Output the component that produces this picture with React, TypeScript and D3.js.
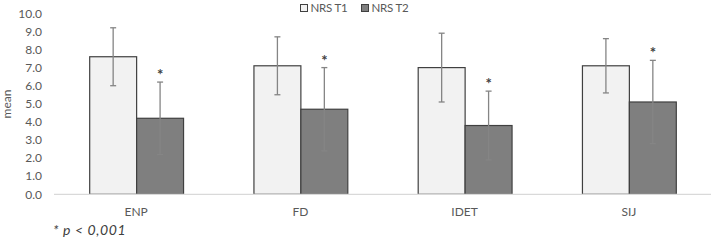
import React from "react";
import * as d3 from "d3";

const categories = ["ENP", "FD", "IDET", "SIJ"];
const seriesNames = ["NRS T1", "NRS T2"];
const t1Mean = [7.6, 7.1, 7.0, 7.1];
const t1Sd = [1.6, 1.6, 1.9, 1.5];
const t2Mean = [4.2, 4.7, 3.8, 5.1];
const t2Sd = [2.0, 2.3, 1.9, 2.3];
const t2Sig = ["*", "*", "*", "*"];
const yTicks = [0, 1, 2, 3, 4, 5, 6, 7, 8, 9, 10];
const footnote = "p < 0,001";

const W = 714;
const H = 240;
const FONT = "Lato, 'Open Sans', sans-serif";
const fills = ["#f2f2f2", "#7f7f7f"];

export default function App() {
  const x = d3.scaleBand<string>().domain(categories).range([54, 711]).padding(0);
  const xi = d3
    .scaleBand<string>()
    .domain(seriesNames)
    .range([0, x.bandwidth()])
    .paddingInner(0)
    .paddingOuter(0.75);
  const y = d3.scaleLinear().domain([0, 10]).range([194.3, 13.3]);
  const fmt = d3.format(".1f");
  const means = [t1Mean, t2Mean];
  const sds = [t1Sd, t2Sd];

  return (
    <svg
      width={W}
      height={H}
      style={{ position: "absolute", left: 0, top: 0, display: "block", background: "#fff" }}
      fontFamily={FONT}
    >
      {/* y tick labels */}
      {yTicks.map((t) => (
        <text
          key={t}
          x={42}
          y={y(t)}
          dy="0.35em"
          textAnchor="end"
          fontSize={12}
          fill="#595959"
        >
          {fmt(t)}
        </text>
      ))}
      <text
        transform={`translate(11,${104}) rotate(-90)`}
        textAnchor="middle"
        fontSize={12}
        fill="#595959"
      >
        mean
      </text>
      {/* bars */}
      {categories.map((c, i) =>
        seriesNames.map((s, k) => {
          const x0 = (x(c) ?? 0) + (xi(s) ?? 0);
          const v = means[k][i];
          return (
            <rect
              key={c + s}
              x={x0 + 0.5}
              y={y(v)}
              width={xi.bandwidth()}
              height={y(0) - y(v)}
              fill={fills[k]}
              stroke="#404040"
              strokeWidth={1.2}
            />
          );
        })
      )}
      {/* axis line */}
      <line x1={54} x2={711} y1={y(0)} y2={y(0)} stroke="#d9d9d9" strokeWidth={1.2} />
      {/* error bars */}
      {categories.map((c, i) =>
        seriesNames.map((s, k) => {
          const cx = (x(c) ?? 0) + (xi(s) ?? 0) + xi.bandwidth() / 2 + 0.5;
          const v = means[k][i];
          const hi = y(v + sds[k][i]);
          const lo = y(v - sds[k][i]);
          return (
            <g key={"e" + c + s} stroke="#858585" strokeWidth={1.3}>
              <line x1={cx} x2={cx} y1={hi} y2={lo} />
              <line x1={cx - 3} x2={cx + 3} y1={hi} y2={hi} />
              <line x1={cx - 3} x2={cx + 3} y1={lo} y2={lo} />
            </g>
          );
        })
      )}
      {/* significance marks */}
      {categories.map((c, i) => {
        const cx = (x(c) ?? 0) + (xi(seriesNames[1]) ?? 0) + xi.bandwidth() / 2 + 0.5;
        const hi = y(t2Mean[i] + t2Sd[i]);
        return (
          <text
            key={"s" + c}
            x={cx}
            y={hi - 2}
            textAnchor="middle"
            fontSize={15}
            fontWeight="bold"
            fill="#404040"
          >
            {t2Sig[i]}
          </text>
        );
      })}
      {/* category labels */}
      {categories.map((c) => (
        <text
          key={"c" + c}
          x={(x(c) ?? 0) + x.bandwidth() / 2}
          y={211.5}
          dy="0.35em"
          textAnchor="middle"
          fontSize={12}
          fill="#595959"
        >
          {c}
        </text>
      ))}
      {/* legend */}
      {seriesNames.map((s, k) => {
        const lx = [300, 361][k];
        return (
          <g key={"l" + s}>
            <rect x={lx + 0.5} y={4.5} width={7} height={7} fill={fills[k]} stroke="#404040" strokeWidth={1} />
            <text x={lx + 10.5} y={8} dy="0.35em" fontSize={11.5} fill="#595959" letterSpacing={-0.2}>
              {s}
            </text>
          </g>
        );
      })}
      {/* footnote */}
      <text x={53} y={230} dy="0.35em" fontSize={14} fill="#404040" fontStyle="italic" letterSpacing={0.6}>
        <tspan>* </tspan>
        <tspan>{footnote}</tspan>
      </text>
    </svg>
  );
}
